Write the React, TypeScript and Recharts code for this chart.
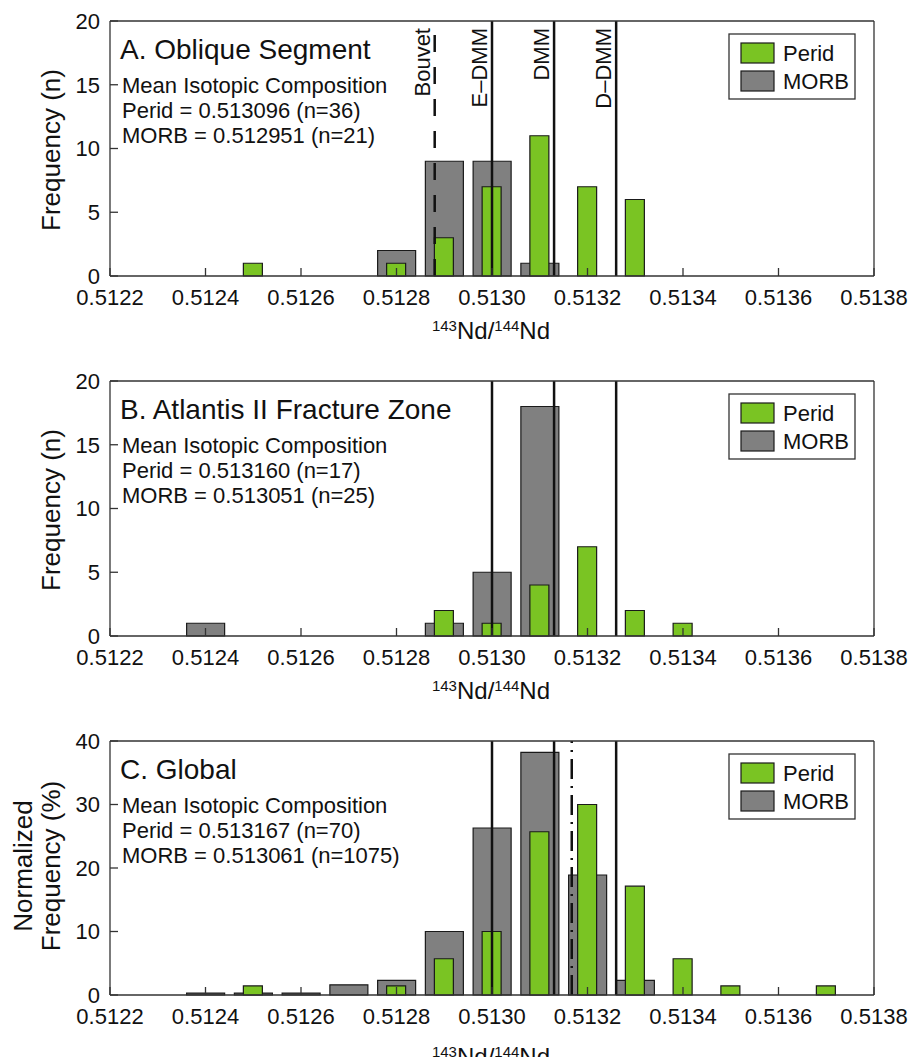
import React from 'react'
import { ComposedChart, Bar, XAxis, YAxis, ReferenceLine } from 'recharts'

// histogram bin centres (143Nd/144Nd), bin width 0.0001
const bins = [0.5123, 0.5124, 0.5125, 0.5126, 0.5127, 0.5128, 0.5129, 0.513, 0.5131, 0.5132, 0.5133, 0.5134, 0.5135, 0.5136, 0.5137]
const xTicks = [0.5122, 0.5124, 0.5126, 0.5128, 0.513, 0.5132, 0.5134, 0.5136, 0.5138]

// A. Oblique Segment (counts)
const peridA = [0, 0, 1, 0, 0, 1, 3, 7, 11, 7, 6, 0, 0, 0, 0]
const morbA = [0, 0, 0, 0, 0, 2, 9, 9, 1, 0, 0, 0, 0, 0, 0]
// B. Atlantis II Fracture Zone (counts)
const peridB = [0, 0, 0, 0, 0, 0, 2, 1, 4, 7, 2, 1, 0, 0, 0]
const morbB = [0, 1, 0, 0, 0, 0, 1, 5, 18, 0, 0, 0, 0, 0, 0]
// C. Global (percent)
const peridC = [0, 0, 1.43, 0, 0, 1.43, 5.71, 10, 25.71, 30, 17.14, 5.71, 1.43, 0, 1.43]
const morbC = [0, 0.3, 0.3, 0.3, 1.6, 2.3, 10, 26.3, 38.2, 18.9, 2.3, 0, 0, 0, 0]

const countTicks = [0, 5, 10, 15, 20]
const pctTicks = [0, 10, 20, 30, 40]

const reservoirs = [
  { name: 'E\u2013DMM', x: 0.513 },
  { name: 'DMM', x: 0.51313 },
  { name: 'D\u2013DMM', x: 0.51326 },
]
const bouvet = 0.51288
const globalPeridMean = 0.513167

const FONT = '"Liberation Sans", Arial, Helvetica, sans-serif'
const GREEN = '#7ac423'
const GRAY = '#808080'
const EDGE = '#1a1a1a'
const INK = '#111'

const buildRows = (perid: number[], morb: number[]) =>
  bins.map((x, i) => ({ x, perid: perid[i], morb: morb[i] }))

const tickStyle = { fill: INK, fontSize: 22, fontFamily: FONT }
const axisStyle = { stroke: '#333', strokeWidth: 1.3 }

const nameLabel = (text: string) => (props: any) => {
  const vb = props.viewBox || {}
  const x = vb.x - 5
  const y = vb.y + 7
  return (
    <text x={x} y={y} transform={`rotate(-90 ${x} ${y})`} textAnchor="end"
      fontSize={22} fontFamily={FONT} fill={INK}>{text}</text>
  )
}

type PanelProps = {
  top: number
  perid: number[]
  morb: number[]
  yMax: number
  yTicks: number[]
  bottom: number
  title: string
  info: string[]
  yLabel: string[]
  xLabelY: number
  named?: boolean
  meanLine?: number
}

const Panel = ({ top, perid, morb, yMax, yTicks, bottom, title, info, yLabel, xLabelY, named, meanLine }: PanelProps) => {
  const data = buildRows(perid, morb)
  const dom: [number, number] = [0.5122, 0.5138]
  return (
    <div style={{ position: 'absolute', left: 0, top, width: 912, height: 360 }}>
      <ComposedChart width={912} height={360} data={data} margin={{ top: 20, right: 37, bottom, left: 50 }}>
        <XAxis xAxisId="m" dataKey="x" type="number" domain={dom} ticks={xTicks} interval={0}
          tickFormatter={(v: number) => v.toFixed(4)} tick={tickStyle} tickSize={-8} tickMargin={21}
          height={30} axisLine={axisStyle} tickLine={axisStyle} />
        <XAxis xAxisId="p" dataKey="x" type="number" domain={dom} hide />
        <XAxis xAxisId="t" orientation="top" dataKey="x" type="number" domain={dom} ticks={xTicks}
          interval={0} tick={false} tickSize={-8} height={1} axisLine={axisStyle} tickLine={axisStyle} />
        <YAxis yAxisId="l" type="number" domain={[0, yMax]} ticks={yTicks} interval={0} tick={tickStyle}
          tickSize={-8} tickMargin={18} width={60} axisLine={axisStyle} tickLine={axisStyle} />
        <YAxis yAxisId="r" orientation="right" type="number" domain={[0, yMax]} ticks={yTicks} interval={0}
          tick={false} tickSize={-8} width={1} axisLine={axisStyle} tickLine={axisStyle} />
        <Bar xAxisId="m" yAxisId="l" dataKey="morb" name="MORB" fill={GRAY} stroke={EDGE}
          strokeWidth={1.2} barSize={38} isAnimationActive={false} />
        <Bar xAxisId="p" yAxisId="l" dataKey="perid" name="Perid" fill={GREEN} stroke={EDGE}
          strokeWidth={1.2} barSize={19} isAnimationActive={false} />
        {named && (
          <ReferenceLine xAxisId="m" yAxisId="l" x={bouvet} stroke={INK} strokeWidth={2.5}
            strokeDasharray="17 15" label={nameLabel('Bouvet')} />
        )}
        {reservoirs.map((r) => (
          <ReferenceLine key={r.name} xAxisId="m" yAxisId="l" x={r.x} stroke={INK} strokeWidth={2.5}
            label={named ? nameLabel(r.name) : undefined} />
        ))}
        {meanLine !== undefined && (
          <ReferenceLine xAxisId="m" yAxisId="l" x={meanLine} stroke={INK} strokeWidth={2.5}
            strokeDasharray="20 7 2 7" />
        )}
      </ComposedChart>
      <svg width={912} height={360} style={{ position: 'absolute', left: 0, top: 0, pointerEvents: 'none' }}
        fontFamily={FONT} fill={INK}>
        <text x={120} y={59} fontSize={28}>{title}</text>
        {info.map((t, i) => (
          <text key={t} x={122} y={93 + i * 25} fontSize={22}>{t}</text>
        ))}
        {yLabel.length === 1 ? (
          <text transform="translate(60 150) rotate(-90)" textAnchor="middle" fontSize={26}>{yLabel[0]}</text>
        ) : (
          <g transform="translate(0 146) rotate(-90)">
            <text x={0} y={32} textAnchor="middle" fontSize={26}>{yLabel[0]}</text>
            <text x={0} y={60} textAnchor="middle" fontSize={26}>{yLabel[1]}</text>
          </g>
        )}
        <text x={491} y={xLabelY} textAnchor="middle">
          <tspan fontSize={15} dy={-8}>143</tspan>
          <tspan fontSize={24} dy={8}>Nd/</tspan>
          <tspan fontSize={15} dy={-8}>144</tspan>
          <tspan fontSize={24} dy={8}>Nd</tspan>
        </text>
        <rect x={729} y={34} width={126} height={65} fill="#fff" stroke="#333" strokeWidth={1.3} />
        <rect x={741} y={43} width={33} height={20} fill={GREEN} stroke={EDGE} strokeWidth={1.2} />
        <rect x={741} y={71} width={33} height={20} fill={GRAY} stroke={EDGE} strokeWidth={1.2} />
        <text x={783} y={61} fontSize={22}>Perid</text>
        <text x={783} y={89} fontSize={22}>MORB</text>
      </svg>
    </div>
  )
}

const App = () => (
  <div style={{ position: 'absolute', left: 0, top: 0, width: 912, height: 1057, overflow: 'hidden', background: '#fff' }}>
    <Panel top={0} perid={peridA} morb={morbA} yMax={20} yTicks={countTicks} bottom={54}
      title="A. Oblique Segment"
      info={['Mean Isotopic Composition', 'Perid = 0.513096 (n=36)', 'MORB = 0.512951 (n=21)']}
      yLabel={['Frequency (n)']} xLabelY={339} named />
    <Panel top={360} perid={peridB} morb={morbB} yMax={20} yTicks={countTicks} bottom={54}
      title="B. Atlantis II Fracture Zone"
      info={['Mean Isotopic Composition', 'Perid = 0.513160 (n=17)', 'MORB = 0.513051 (n=25)']}
      yLabel={['Frequency (n)']} xLabelY={339} />
    <Panel top={720} perid={peridC} morb={morbC} yMax={40} yTicks={pctTicks} bottom={55}
      title="C. Global"
      info={['Mean Isotopic Composition', 'Perid = 0.513167 (n=70)', 'MORB = 0.513061 (n=1075)']}
      yLabel={['Normalized', 'Frequency (%)']} xLabelY={345} meanLine={globalPeridMean} />
  </div>
)

export default App
